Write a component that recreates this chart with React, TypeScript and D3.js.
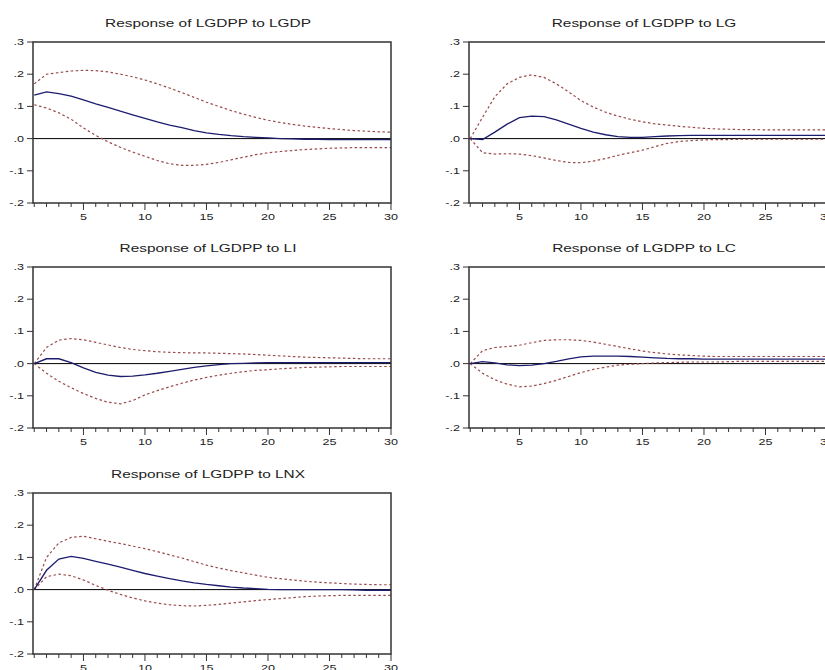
import { useMemo } from "react";
import * as d3 from "d3";

const WIDTH = 825;
const HEIGHT = 670;
const PANEL_W = 358;
const PANEL_H = 161;

const periods = d3.range(1, 31);
const yTicks = [0.3, 0.2, 0.1, 0, -0.1, -0.2];
const yTickLabels = [".3", ".2", ".1", ".0", "-.1", "-.2"];
const xLabelTicks = [5, 10, 15, 20, 25, 30];

const titles = [
  "Response of LGDPP to LGDP",
  "Response of LGDPP to LG",
  "Response of LGDPP to LI",
  "Response of LGDPP to LC",
  "Response of LGDPP to LNX",
];

// response, upper band, lower band (periods 1..30)
const lgdpResp = [0.135, 0.145, 0.14, 0.132, 0.12, 0.108, 0.097, 0.085, 0.074, 0.063, 0.052, 0.042, 0.034, 0.025, 0.018, 0.013, 0.009, 0.006, 0.004, 0.002, 0.0, -0.001, -0.002, -0.002, -0.003, -0.003, -0.003, -0.003, -0.003, -0.003];
const lgdpUpper = [0.17, 0.2, 0.205, 0.21, 0.212, 0.211, 0.207, 0.2, 0.192, 0.182, 0.17, 0.157, 0.143, 0.128, 0.113, 0.1, 0.087, 0.076, 0.066, 0.057, 0.05, 0.044, 0.039, 0.035, 0.031, 0.028, 0.025, 0.023, 0.021, 0.02];
const lgdpLower = [0.105, 0.095, 0.08, 0.06, 0.033, 0.01, -0.01, -0.027, -0.042, -0.055, -0.068, -0.078, -0.083, -0.083, -0.08, -0.074, -0.066, -0.058, -0.05, -0.044, -0.04, -0.037, -0.034, -0.032, -0.03, -0.029, -0.028, -0.028, -0.028, -0.028];

const lgResp = [0.0, -0.003, 0.02, 0.045, 0.065, 0.07, 0.068, 0.058, 0.045, 0.032, 0.02, 0.012, 0.006, 0.004, 0.004, 0.006, 0.008, 0.009, 0.01, 0.01, 0.01, 0.01, 0.01, 0.01, 0.01, 0.01, 0.01, 0.01, 0.01, 0.01];
const lgUpper = [0.0, 0.066, 0.13, 0.17, 0.19, 0.198, 0.19, 0.17, 0.145, 0.118, 0.098, 0.082, 0.07, 0.06, 0.052, 0.046, 0.042, 0.038, 0.035, 0.032, 0.03, 0.029, 0.028, 0.028, 0.027, 0.027, 0.027, 0.027, 0.027, 0.027];
const lgLower = [0.0, -0.044, -0.048, -0.047, -0.048, -0.053, -0.06, -0.068, -0.074, -0.075, -0.07, -0.062, -0.052, -0.044, -0.036, -0.025, -0.015, -0.009, -0.006, -0.004, -0.003, -0.003, -0.002, -0.002, -0.002, -0.002, -0.002, -0.002, -0.002, -0.002];

const liResp = [0.0, 0.015, 0.015, 0.003, -0.013, -0.027, -0.036, -0.04, -0.039, -0.035, -0.03, -0.024, -0.018, -0.012, -0.007, -0.003, 0.0, 0.001, 0.002, 0.003, 0.003, 0.003, 0.003, 0.003, 0.003, 0.003, 0.003, 0.003, 0.003, 0.003];
const liUpper = [0.0, 0.05, 0.073, 0.078, 0.074, 0.066, 0.058, 0.05, 0.044, 0.04, 0.037, 0.035, 0.034, 0.033, 0.033, 0.032, 0.031, 0.03, 0.028, 0.026, 0.024, 0.022, 0.02, 0.019, 0.018, 0.017, 0.016, 0.015, 0.015, 0.015];
const liLower = [0.0, -0.03, -0.055, -0.075, -0.093, -0.108, -0.12, -0.125, -0.115, -0.097, -0.084, -0.072, -0.061, -0.051, -0.043, -0.036, -0.03, -0.025, -0.021, -0.019, -0.016, -0.014, -0.012, -0.011, -0.01, -0.009, -0.009, -0.009, -0.009, -0.009];

const lcResp = [0.0, 0.006, 0.002, -0.004, -0.006, -0.005, 0.0, 0.007, 0.015, 0.021, 0.023, 0.023, 0.023, 0.022, 0.02, 0.018, 0.016, 0.015, 0.015, 0.014, 0.014, 0.014, 0.014, 0.014, 0.014, 0.014, 0.014, 0.014, 0.014, 0.014];
const lcUpper = [0.0, 0.04, 0.05, 0.053, 0.057, 0.065, 0.072, 0.074, 0.074, 0.072, 0.067, 0.06, 0.053, 0.046, 0.039, 0.034, 0.03, 0.027, 0.025, 0.023, 0.022, 0.022, 0.022, 0.022, 0.022, 0.022, 0.022, 0.022, 0.022, 0.022];
const lcLower = [0.0, -0.03, -0.05, -0.064, -0.072, -0.07, -0.062, -0.052, -0.04, -0.028, -0.018, -0.011, -0.005, -0.002, 0.0, 0.002, 0.003, 0.004, 0.005, 0.005, 0.005, 0.006, 0.007, 0.007, 0.007, 0.007, 0.007, 0.007, 0.007, 0.007];

const lnxResp = [0.0, 0.06, 0.095, 0.103, 0.097, 0.088, 0.079, 0.07, 0.06, 0.05, 0.042, 0.034, 0.027, 0.021, 0.016, 0.012, 0.008, 0.005, 0.003, 0.001, 0.0, 0.0, 0.0, 0.0, 0.0, 0.0, -0.001, -0.002, -0.002, -0.002];
const lnxUpper = [0.0, 0.1, 0.145, 0.162, 0.166, 0.158, 0.15, 0.143, 0.135, 0.127, 0.118, 0.108, 0.098, 0.087, 0.076, 0.067, 0.059, 0.052, 0.045, 0.038, 0.034, 0.03, 0.026, 0.023, 0.021, 0.019, 0.017, 0.016, 0.015, 0.015];
const lnxLower = [0.0, 0.04, 0.048, 0.043, 0.03, 0.013, -0.002, -0.015, -0.026, -0.035, -0.042, -0.047, -0.05, -0.051, -0.049, -0.046, -0.042, -0.038, -0.034, -0.031, -0.028, -0.025, -0.022, -0.02, -0.019, -0.018, -0.018, -0.018, -0.018, -0.018];

const panels = [
  { title: titles[0], resp: lgdpResp, upper: lgdpUpper, lower: lgdpLower, left: 33, top: 42 },
  { title: titles[1], resp: lgResp, upper: lgUpper, lower: lgLower, left: 469, top: 42 },
  { title: titles[2], resp: liResp, upper: liUpper, lower: liLower, left: 33, top: 267 },
  { title: titles[3], resp: lcResp, upper: lcUpper, lower: lcLower, left: 469, top: 267 },
  { title: titles[4], resp: lnxResp, upper: lnxUpper, lower: lnxLower, left: 33, top: 493 },
];

const FONT = "'Liberation Sans', Arial, sans-serif";
const STRETCH = 1.4;

function Panel({ title, resp, upper, lower, left, top }) {
  const x = useMemo(() => d3.scaleLinear().domain([0.9, 30]).range([0, PANEL_W]), []);
  const y = useMemo(() => d3.scaleLinear().domain([-0.2, 0.3]).range([PANEL_H, 0]), []);
  const line = d3
    .line<number>()
    .x((_, i) => x(periods[i]))
    .y((d) => y(d));

  return (
    <g transform={`translate(${left},${top})`}>
      <text
        transform={`translate(${PANEL_W / 2 - 4},-15) scale(${STRETCH},1)`}
        textAnchor="middle"
        fontSize={11}
        fontFamily={FONT}
        fill="#222"
      >
        {title}
      </text>
      <line x1={0} x2={PANEL_W} y1={y(0)} y2={y(0)} stroke="#000" strokeWidth={1} />
      <path d={line(upper) ?? ""} fill="none" stroke="#9a4a4a" strokeWidth={1.2} strokeDasharray="2.5,2.5" />
      <path d={line(lower) ?? ""} fill="none" stroke="#9a4a4a" strokeWidth={1.2} strokeDasharray="2.5,2.5" />
      <path d={line(resp) ?? ""} fill="none" stroke="#1c1c6e" strokeWidth={1.3} />
      <rect x={0} y={0} width={PANEL_W} height={PANEL_H} fill="none" stroke="#333" strokeWidth={1.5} />
      {yTicks.map((t, i) => (
        <g key={t}>
          <line x1={-6} x2={0} y1={y(t)} y2={y(t)} stroke="#333" strokeWidth={1} />
          <text
            transform={`translate(-9,${y(t) + 3}) scale(${STRETCH},1)`}
            textAnchor="end"
            fontSize={9}
            fontFamily={FONT}
            fill="#222"
          >
            {yTickLabels[i]}
          </text>
        </g>
      ))}
      {periods.map((p) => (
        <line
          key={p}
          x1={x(p)}
          x2={x(p)}
          y1={PANEL_H}
          y2={PANEL_H + (p % 5 === 0 ? 7 : 4)}
          stroke="#333"
          strokeWidth={1}
        />
      ))}
      {xLabelTicks.map((p) => (
        <text
          key={p}
          transform={`translate(${x(p)},${PANEL_H + 17}) scale(${STRETCH},1)`}
          textAnchor="middle"
          fontSize={9}
          fontFamily={FONT}
          fill="#222"
        >
          {p}
        </text>
      ))}
    </g>
  );
}

export default function App() {
  return (
    <svg
      width={WIDTH}
      height={HEIGHT}
      viewBox={`0 0 ${WIDTH} ${HEIGHT}`}
      style={{ position: "absolute", left: 0, top: 0, background: "#fff" }}
    >
      <rect x={0} y={0} width={WIDTH} height={HEIGHT} fill="#fff" />
      {panels.map((p) => (
        <Panel key={p.title} {...p} />
      ))}
    </svg>
  );
}
